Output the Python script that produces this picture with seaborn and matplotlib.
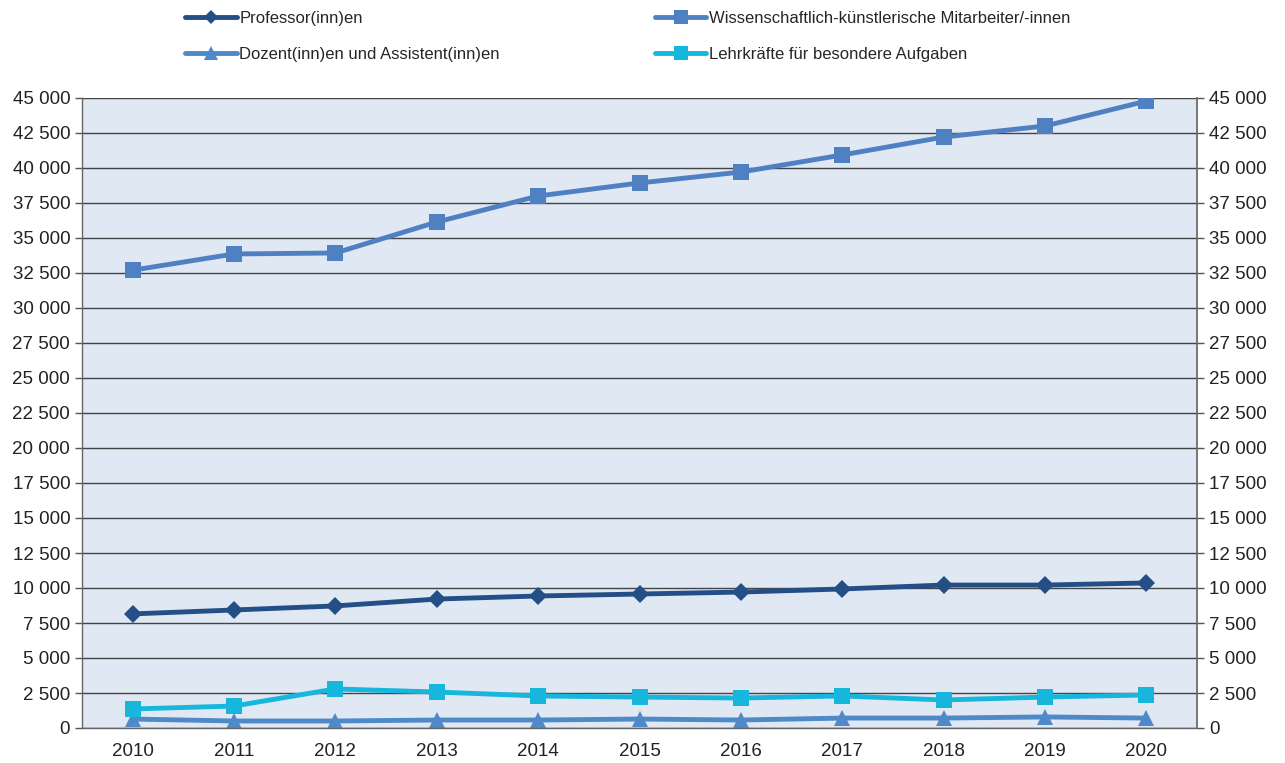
import matplotlib
matplotlib.use("Agg")
import matplotlib.pyplot as plt
import seaborn as sns
import pandas as pd
import numpy as np
from matplotlib.ticker import FuncFormatter, FixedLocator

years = ["2010", "2011", "2012", "2013", "2014", "2015", "2016", "2017", "2018", "2019", "2020"]
professoren = [8150, 8430, 8720, 9210, 9430, 9570, 9710, 9930, 10210, 10210, 10360]
wiss_mitarbeiter = [32700, 33860, 33930, 36140, 38000, 38930, 39710, 40930, 42210, 43000, 44780]
dozenten = [640, 500, 500, 570, 570, 640, 570, 710, 710, 790, 710]
lehrkraefte = [1360, 1570, 2790, 2570, 2290, 2210, 2140, 2290, 2000, 2210, 2360]
yticks = list(range(0, 45001, 2500))

names = ["Professor(inn)en", "Wissenschaftlich-künstlerische Mitarbeiter/-innen",
         "Dozent(inn)en und Assistent(inn)en", "Lehrkräfte für besondere Aufgaben"]
series = [professoren, wiss_mitarbeiter, dozenten, lehrkraefte]
colors = ["#234e86", "#4f81c2", "#5089c8", "#17b6dc"]
markers = ["D", "s", "^", "s"]
msizes = [9, 12, 12, 12]

sns.set_theme(style="white")
plt.rcParams['font.family'] = ['Liberation Sans', 'DejaVu Sans']

fig = plt.figure(figsize=(12.85, 7.63), dpi=100)
ax = fig.add_axes([82/1285, 35/763, (1197-82)/1285, (728-98)/763])
ax.set_facecolor("#dfe8f3")

pos = np.arange(len(years))
for name, vals, c, m, ms in zip(names, series, colors, markers, msizes):
    df = pd.DataFrame({"x": pos, "y": vals})
    sns.lineplot(data=df, x="x", y="y", ax=ax, color=c, marker=m, markersize=ms,
                 markeredgewidth=0, linewidth=3.5, label=name, legend=False)

ax.set_xlim(-0.5, len(years) - 0.5)
ax.set_ylim(0, 45000)
ax.set_xticks(pos)
ax.set_xticklabels(years)
ax.xaxis.set_minor_locator(FixedLocator(np.arange(-0.5, len(years), 1.0)))
ax.tick_params(axis="x", which="major", length=0, labelsize=13.5, pad=11, colors="#222222")
ax.tick_params(axis="x", which="minor", length=6, width=1, color="#555555")
fmt = FuncFormatter(lambda v, p: f"{int(v):,}".replace(",", " "))
ax.set_yticks(yticks)
ax.yaxis.set_major_formatter(fmt)
ax.tick_params(axis="y", length=5, width=1, color="#555555", labelsize=13.5, colors="#222222")
ax.grid(axis="y", color="#444444", linewidth=1)
ax.set_axisbelow(True)
ax.set_xlabel("")
ax.set_ylabel("")
for s in ["top", "right"]:
    ax.spines[s].set_visible(False)
for s in ["left", "bottom"]:
    ax.spines[s].set_color("#666666")
    ax.spines[s].set_linewidth(1)

ax2 = ax.twinx()
ax2.set_ylim(0, 45000)
ax2.set_yticks(yticks)
ax2.yaxis.set_major_formatter(fmt)
ax2.tick_params(axis="y", length=5, width=1, color="#555555", labelsize=13.5, colors="#222222")
for s in ["top", "left", "bottom"]:
    ax2.spines[s].set_visible(False)
ax2.spines["right"].set_color("#666666")

handles, labels = ax.get_legend_handles_labels()
order = [0, 2, 1, 3]
leg = fig.legend([handles[i] for i in order], [labels[i] for i in order], ncol=2,
                 loc="upper left", bbox_to_anchor=(170/1285, 1.005), frameon=False,
                 fontsize=12, handlelength=3.1, handletextpad=0.15, columnspacing=9.3,
                 labelspacing=1.25, markerscale=0.8)

fig.savefig("out.png", dpi=100, facecolor="white")
